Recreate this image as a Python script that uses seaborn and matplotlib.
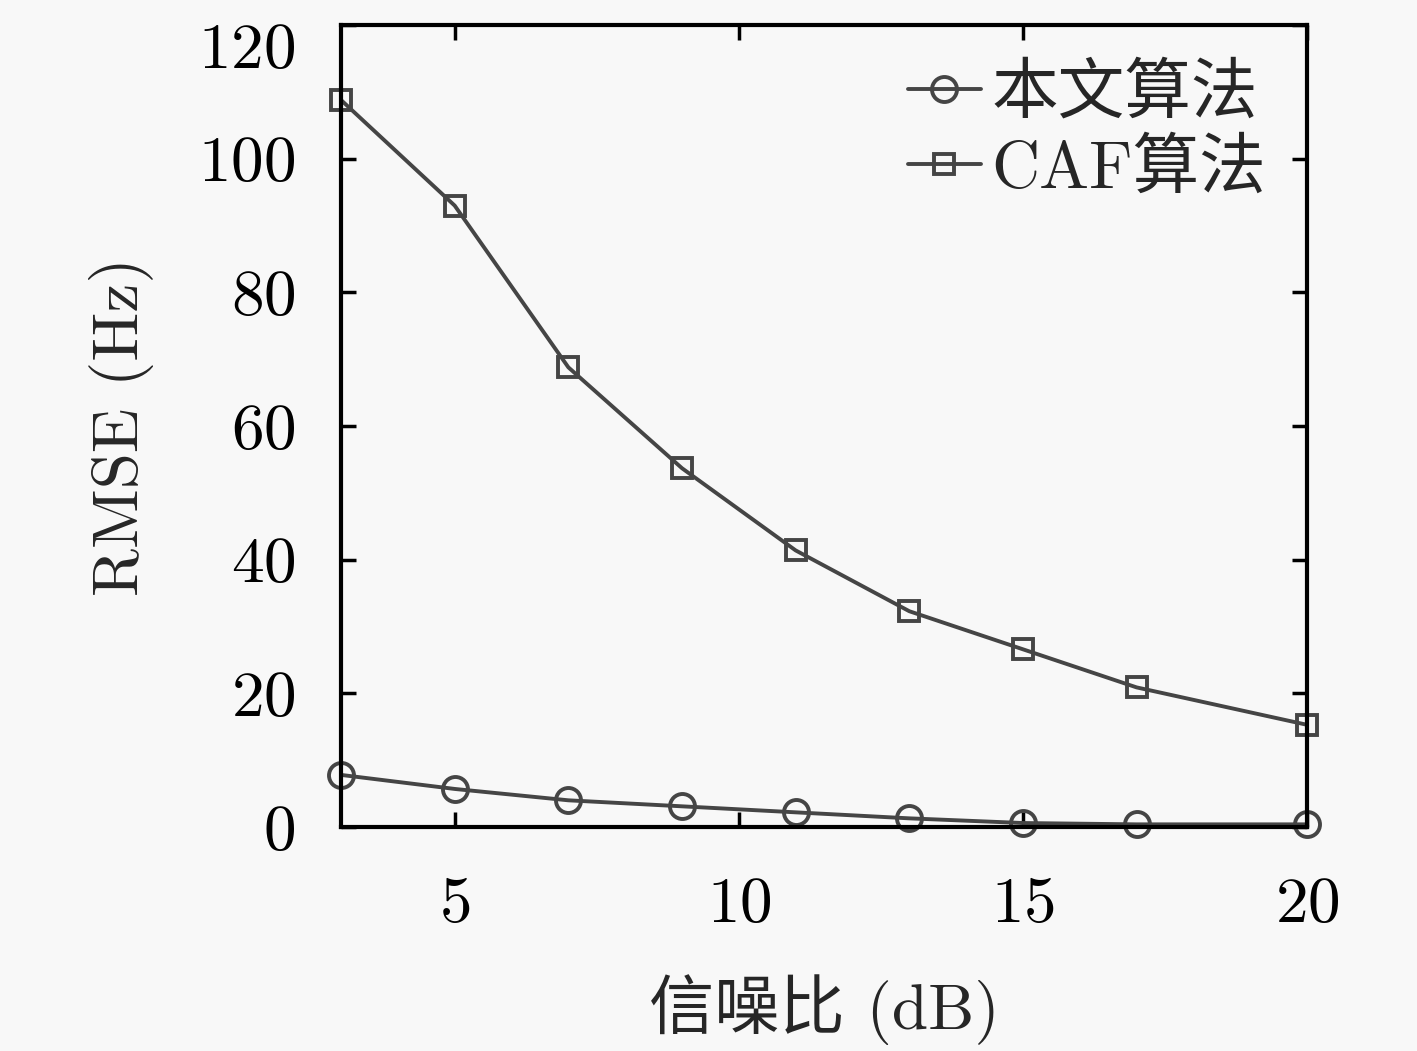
import numpy as np
import pandas as pd
import matplotlib
matplotlib.use("Agg")
import matplotlib.pyplot as plt
import matplotlib.transforms as mtransforms
import seaborn as sns

# --- dados ---
snr_db = [3, 5, 7, 9, 11, 13, 15, 17, 20]
rmse_proposto = [7.8, 5.7, 4.0, 3.1, 2.2, 1.3, 0.6, 0.4, 0.4]
rmse_caf = [108.8, 93.0, 68.8, 53.7, 41.4, 32.3, 26.6, 20.9, 15.3]
nomes = ['本文算法', 'CAF算法']
marcadores = ['o', 's']

df = pd.DataFrame({
    'snr': snr_db * 2,
    'rmse': rmse_proposto + rmse_caf,
    'metodo': [nomes[0]] * len(snr_db) + [nomes[1]] * len(snr_db),
})

sns.set_theme(style='ticks')
plt.rcParams['font.family'] = ['cmr10', 'Noto Sans CJK SC', 'DejaVu Sans']
plt.rcParams['axes.formatter.use_mathtext'] = True
plt.rcParams['mathtext.fontset'] = 'cm'

cor = '#454545'
fig = plt.figure(figsize=(14.17, 10.51), dpi=100, facecolor='#f8f8f8')
ax = fig.add_axes([0.2407, 0.2131, 0.6817, 0.7629])
ax.set_facecolor('#f8f8f8')

sns.lineplot(data=df, x='snr', y='rmse', hue='metodo', style='metodo',
             markers=marcadores, dashes=False, palette=[cor, cor],
             markersize=16, markerfacecolor='none', markeredgecolor=cor,
             markeredgewidth=2.8, linewidth=2.8, ax=ax, clip_on=False)

# quadrados um pouco menores
for ln, ms in zip(ax.lines, [18, 14]):
    ln.set_markersize(ms)
    ln.set_markerfacecolor('none')
    ln.set_markeredgecolor(cor)

ax.set_xlim(3, 20)
ax.set_ylim(0, 120)
ax.set_xticks([5, 10, 15, 20])
ax.set_yticks([0, 20, 40, 60, 80, 100, 120])
ax.tick_params(direction='in', length=11, width=2.5, top=True, right=True,
               labelsize=47, colors='black')
ax.tick_params(axis='y', pad=33)
ax.tick_params(axis='x', pad=36)
for s in ax.spines.values():
    s.set_linewidth(3)
    s.set_color('black')
    s.set_zorder(5)

# rótulo 120 um pouco abaixo, como no original
lbl_top = ax.get_yticklabels()[-1]
lbl_top.set_transform(lbl_top.get_transform() +
                      mtransforms.ScaledTranslation(0, -0.2, fig.dpi_scale_trans))

ax.set_xlabel('信噪比 (dB)', fontsize=47, labelpad=28)
ax.set_ylabel('RMSE (Hz)', fontsize=47, labelpad=32)

handles, labels = ax.get_legend_handles_labels()
for h, ms in zip(handles, [18, 14]):
    h.set_markersize(ms)
    h.set_markerfacecolor('none')
    h.set_markeredgecolor(cor)
    h.set_markeredgewidth(2.8)
ax.legend(handles, labels, loc='upper right', frameon=False, fontsize=48,
          handlelength=1.1, handletextpad=0.15, labelspacing=0.2,
          borderaxespad=0.0, bbox_to_anchor=(0.985, 0.985))

fig.savefig('out.png', dpi=100, facecolor=fig.get_facecolor())
